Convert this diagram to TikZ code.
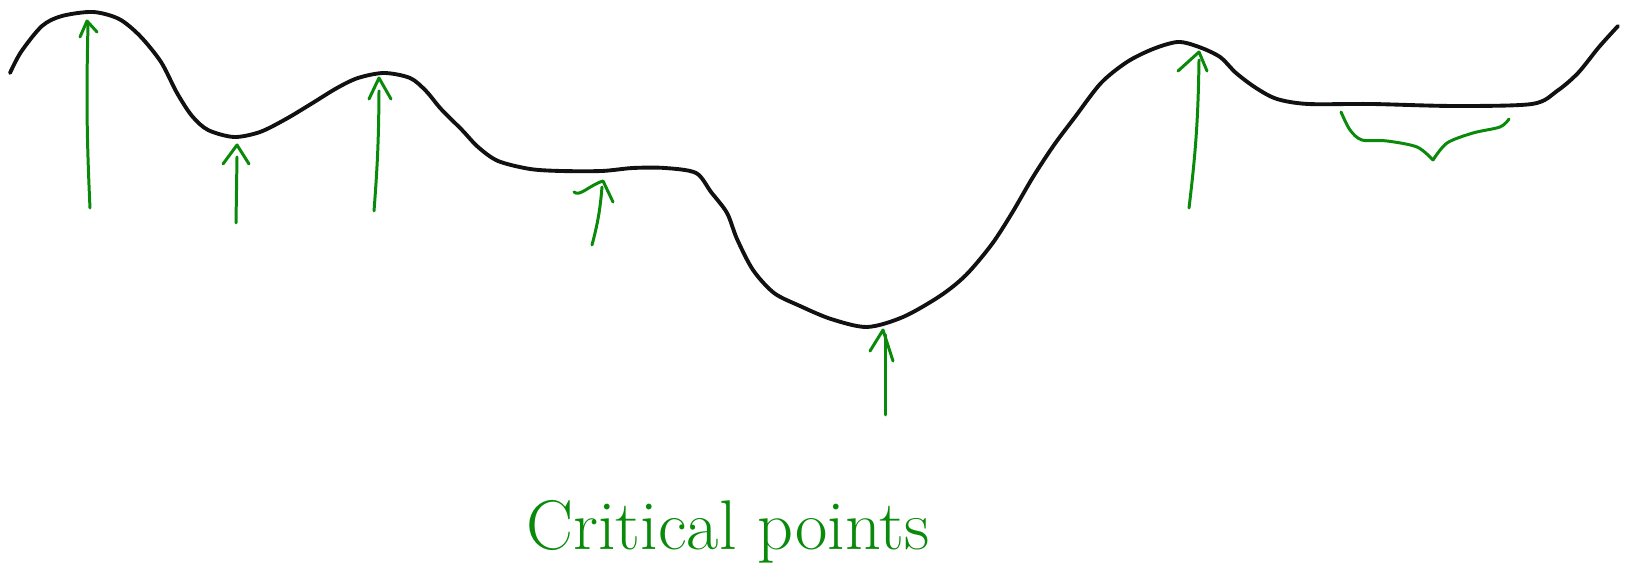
\documentclass[tikz,border=0pt]{standalone}
\usepackage{tikz}
\usepackage{xcolor}
\usetikzlibrary{positioning}
\definecolor{pen}{HTML}{0A8A0A}
\definecolor{ink}{HTML}{111111}
\tikzset{
  landscape/.style={draw=ink,line width=1.1pt,line cap=round,line join=round},
  greenpen/.style={draw=pen,line width=0.85pt,line cap=round,line join=round},
  label/.style={text=pen,font=\fontsize{20}{24}\selectfont,anchor=base}
}

\begin{document}
\begin{tikzpicture}[x=0.01cm,y=-0.01cm]
    \path[use as bounding box] (0,0) rectangle (1628,571);

    % the landscape
    \draw[landscape] plot[smooth,tension=0.5] coordinates {
      (10,73) (21,52) (42,26) (62,16) (93,12) (119,19) (140,36) (161,62)
      (177,93) (192,116) (208,130) (234,137) (260,132) (286,119) (311,104)
      (337,88) (358,78) (384,73) (410,78) (426,91) (441,109) (462,130)
      (478,147) (498,161) (530,169) (561,171) (602,171) (633,168) (665,168)
      (696,173) (711,192) (727,213) (737,239) (753,270) (774,293) (800,306)
      (831,319) (867,327) (903,317) (940,296) (966,275) (992,244) (1012,213)
      (1033,177) (1054,145) (1075,117) (1101,83) (1127,62) (1153,49)
      (1178,42) (1199,47) (1220,57) (1236,73) (1256,88) (1277,99) (1308,104)
      (1371,104) (1454,106) (1532,104) (1557,91) (1578,73) (1599,47) (1618,26)};

    % arrows to the critical points
    \draw[greenpen] (90,208) to[bend left=2] (88,25);
    \draw[greenpen] (80,37) -- (87,21) -- (97,32);
    \draw[greenpen] (236,223) -- (237,157);
    \draw[greenpen] (223,164) -- (237,145) -- (249,164);
    \draw[greenpen] (374,211) to[bend right=2] (379,91);
    \draw[greenpen] (369,99) -- (379,78) -- (391,99);
    \draw[greenpen] (592,245) to[bend right=5] (602,187);
    \draw[greenpen] (574,192) .. controls (580,197) and (588,186) .. (603,181)
      -- (613,202);
    \draw[greenpen] (885,415) -- (885,335);
    \draw[greenpen] (870,351) -- (883,330) -- (893,361);
    \draw[greenpen] (1189,208) to[bend right=3] (1199,60);
    \draw[greenpen] (1178,71) -- (1199,52) -- (1207,71);

    % brace under the flat part
    \draw[greenpen] plot[smooth,tension=0.5] coordinates {
      (1341,112) (1350,130) (1362,140) (1387,141) (1417,147) (1433,160)};
    \draw[greenpen] plot[smooth,tension=0.5] coordinates {
      (1433,160) (1447,143) (1473,133) (1500,127) (1509,119)};

    \node[label] (caption) at (728,550) {Critical points};
  \end{tikzpicture}
\end{document}
